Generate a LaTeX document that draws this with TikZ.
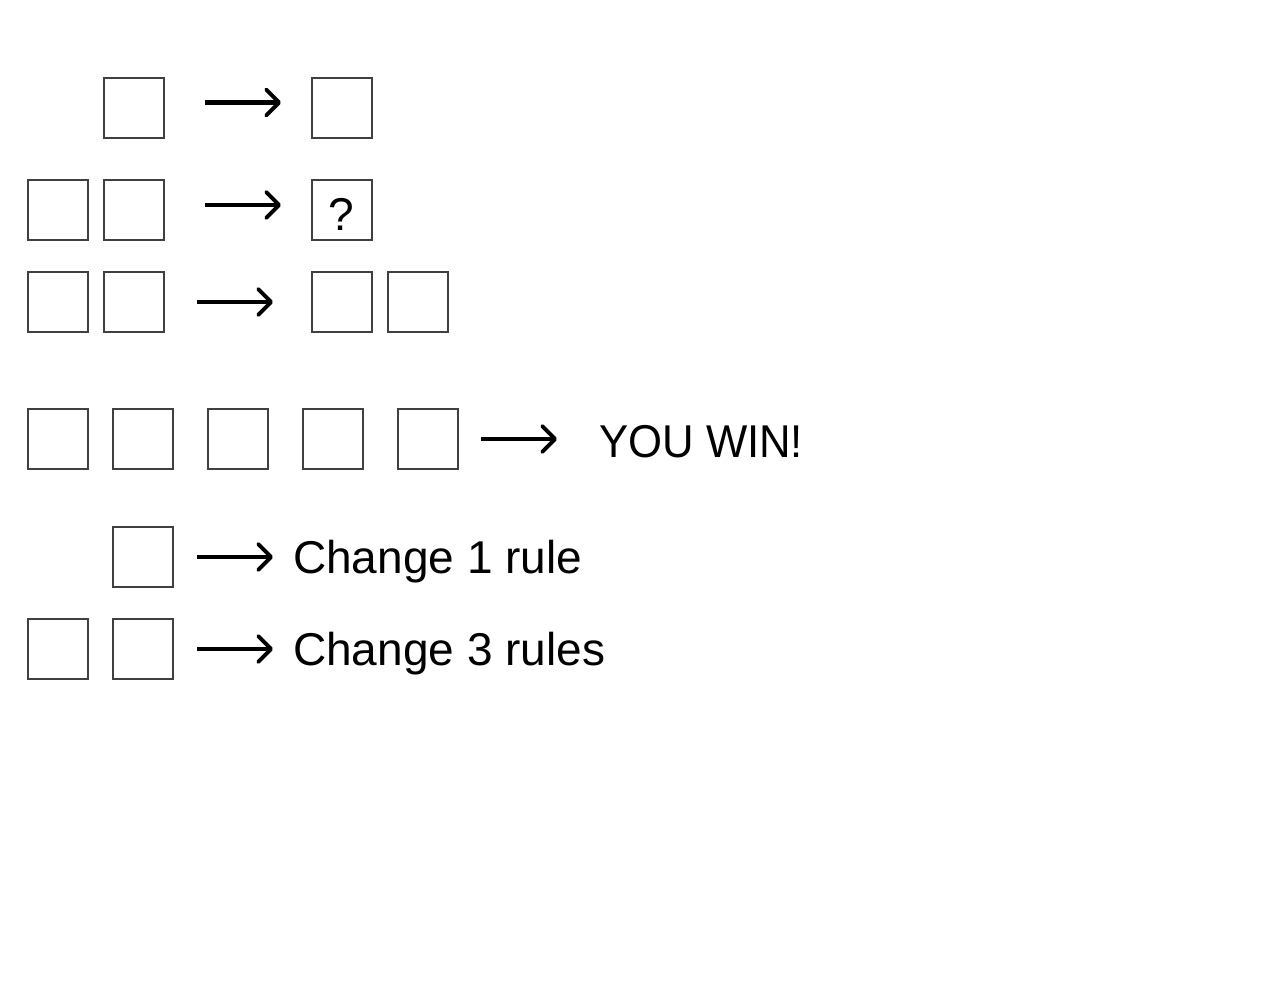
\documentclass[tikz,border=0pt]{standalone}
\usepackage{fontspec}
\setmainfont{Liberation Sans}
\usetikzlibrary{arrows.meta}
\begin{document}
\begin{tikzpicture}[x=1pt,y=-1pt,
  sq/.style={draw=black!75, line width=2pt, minimum size=60pt, inner sep=0pt, outer sep=0pt, anchor=north west},
  arr/.style={line width=4.3pt, -{Straight Barb[length=13pt,width=26pt,line width=3.8pt,round]}},
  lbl/.style={anchor=base west, inner sep=0pt, font=\fontsize{46}{50}\selectfont}]
\useasboundingbox (0,0) rectangle (1273,984);
% row 1
\node[sq] (r1a) at (104,78) {};
\node[sq] (r1r) at (312,78) {};
\coordinate (a1s) at (205,102.5); \coordinate (a1e) at (281,102.5);
\draw[arr] (a1s) -- (a1e);
% row 2
\node[sq] (r2a) at (28,180) {};
\node[sq] (r2b) at (104,180) {};
\node[sq] (r2r) at (312,180) {};
\node[anchor=base, inner sep=0pt, font=\fontsize{46}{50}\selectfont] (q) at (341,230) {?};
\coordinate (a2s) at (205,205); \coordinate (a2e) at (281,205);
\draw[arr] (a2s) -- (a2e);
% row 3
\node[sq] (r3a) at (28,272) {};
\node[sq] (r3b) at (104,272) {};
\node[sq] (r3r) at (312,272) {};
\node[sq] (r3s) at (388,272) {};
\coordinate (a3s) at (197,302); \coordinate (a3e) at (273,302);
\draw[arr] (a3s) -- (a3e);
% row 4
\node[sq] (r4a) at (28,409) {};
\node[sq] (r4b) at (113,409) {};
\node[sq] (r4c) at (208,409) {};
\node[sq] (r4d) at (303,409) {};
\node[sq] (r4e) at (398,409) {};
\coordinate (a4s) at (481,439); \coordinate (a4e) at (557,439);
\draw[arr] (a4s) -- (a4e);
\node[lbl, xscale=0.95] (win) at (599,457) {YOU WIN!};
% row 5
\node[sq] (r5a) at (113,527) {};
\coordinate (a5s) at (197,557); \coordinate (a5e) at (273,557);
\draw[arr] (a5s) -- (a5e);
\node[lbl] (c1) at (293,573) {Change 1 rule};
% row 6
\node[sq] (r6a) at (28,619) {};
\node[sq] (r6b) at (113,619) {};
\coordinate (a6s) at (197,649); \coordinate (a6e) at (273,649);
\draw[arr] (a6s) -- (a6e);
\node[lbl] (c3) at (293,665) {Change 3 rules};
\end{tikzpicture}
\end{document}
